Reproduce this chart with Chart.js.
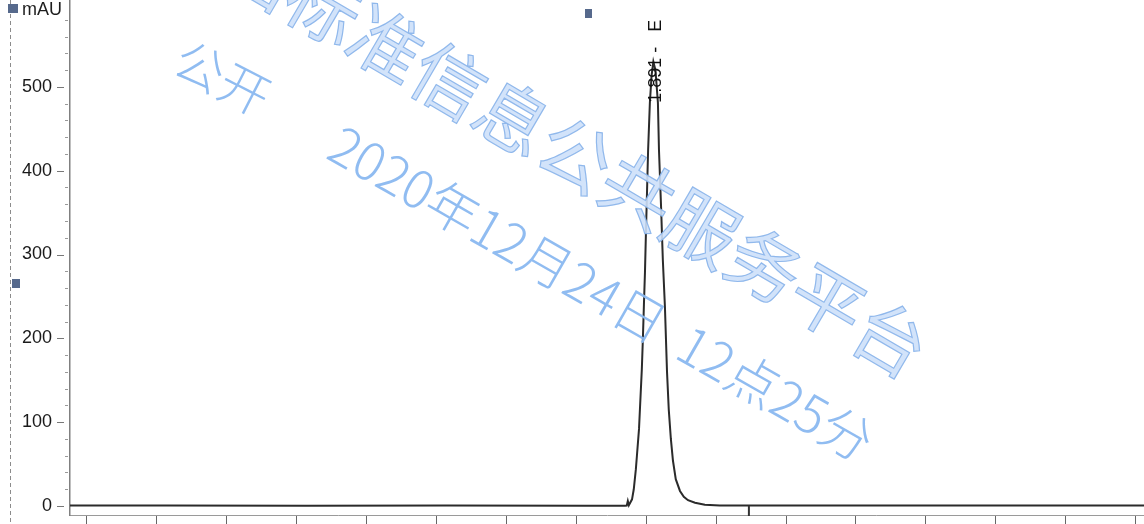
<!DOCTYPE html>
<html>
<head>
<meta charset="utf-8">
<script src="https://cdn.jsdelivr.net/npm/chart.js@4.4.1/dist/chart.umd.min.js"></script>
<style>
  html, body { margin: 0; padding: 0; background: #ffffff; }
  #wrap { width: 1144px; height: 524px; position: relative; }
</style>
</head>
<body>
<div id="wrap"><canvas id="c" width="1144" height="524"></canvas></div>
<script>
// Retention time (min) and detector response (mAU)
const retentionTimes = [
  0.224, 0.50, 0.90, 1.30, 1.70, 1.810, 1.815, 1.818, 1.821, 1.830,
  1.835, 1.841, 1.844, 1.850, 1.853, 1.858, 1.861, 1.864, 1.867, 1.870,
  1.873, 1.876, 1.881, 1.886, 1.891, 1.897, 1.904, 1.907, 1.913, 1.918,
  1.924, 1.930, 1.935, 1.941, 1.947, 1.955, 1.967, 1.978, 1.990, 2.010,
  2.038, 2.081, 2.40, 2.80, 3.293
];
const signal = [
  0.5, 0.6, 0.4, 0.5, 0.4, 0.4, 0.6, 6, 1.0, 8,
  20, 44, 60, 92, 119, 163, 199, 240, 279, 330,
  377, 425, 481, 514, 530, 520, 481, 425, 357, 294,
  238, 160, 115, 80, 54, 32, 18, 11, 7, 4,
  1.5, 0.6, 0.5, 0.6, 0.5
];

// Axis ticks
const yTickValues = [0, 100, 200, 300, 400, 500];
const yMinorTickValues = [20, 40, 60, 80, 120, 140, 160, 180, 220, 240, 260, 280,
  320, 340, 360, 380, 420, 440, 460, 480, 520, 540, 560, 580];
const xTickValues = [0.27, 0.47, 0.67, 0.87, 1.07, 1.27, 1.47, 1.67, 1.87, 2.07,
  2.27, 2.47, 2.67, 2.87, 3.07, 3.27];
const yUnit = 'mAU';

// Peak annotation and event marks
const peakTimes = [1.891];
const peakHeights = [530];
const peakNames = ['E'];
const eventTimes = [2.164];

// Watermark text
const watermarkLines = ['全国标准信息公共服务平台', '公开', '2020年12月24日  12点25分'];

const points = retentionTimes.map((t, i) => ({ x: t, y: signal[i] }));

const zeroPadding = s => {
  s.paddingTop = 0; s.paddingBottom = 0; s.paddingLeft = 0; s.paddingRight = 0;
};

const decorations = {
  id: 'decorations',
  afterDraw(chart) {
    const ctx = chart.ctx;
    const xs = chart.scales.x;
    const ys = chart.scales.y;
    const axisX = chart.chartArea.left;

    ctx.save();

    // dashed frame edge on the left
    ctx.strokeStyle = '#8c8c8c';
    ctx.lineWidth = 1;
    ctx.setLineDash([4, 3]);
    ctx.beginPath();
    ctx.moveTo(10.5, 0);
    ctx.lineTo(10.5, 524);
    ctx.stroke();
    ctx.setLineDash([]);

    // y tick marks: major and minor
    ctx.strokeStyle = '#777';
    ctx.lineWidth = 1;
    yTickValues.forEach(v => {
      const y = Math.round(ys.getPixelForValue(v)) + 0.5;
      ctx.beginPath();
      ctx.moveTo(axisX - 13, y);
      ctx.lineTo(axisX - 6, y);
      ctx.stroke();
    });
    ctx.strokeStyle = '#999';
    yMinorTickValues.forEach(v => {
      const y = Math.round(ys.getPixelForValue(v)) + 0.5;
      ctx.beginPath();
      ctx.moveTo(axisX - 5, y);
      ctx.lineTo(axisX - 2, y);
      ctx.stroke();
    });

    // event marks on the baseline
    ctx.strokeStyle = '#333';
    ctx.lineWidth = 2;
    eventTimes.forEach(t => {
      const x = xs.getPixelForValue(t);
      ctx.beginPath();
      ctx.moveTo(x, ys.getPixelForValue(0));
      ctx.lineTo(x, chart.chartArea.bottom + 1);
      ctx.stroke();
    });

    // unit label
    ctx.fillStyle = '#1e1e1e';
    ctx.font = '18px "Liberation Sans", Arial, sans-serif';
    ctx.textAlign = 'left';
    ctx.textBaseline = 'alphabetic';
    ctx.fillText(yUnit, 22, 15);

    // peak labels, vertical
    ctx.font = '18px "Liberation Sans", Arial, sans-serif';
    ctx.fillStyle = '#111';
    peakTimes.forEach((t, i) => {
      const x = xs.getPixelForValue(t) + 3;
      const y = ys.getPixelForValue(peakHeights[i]) + 41;
      ctx.save();
      ctx.translate(x, y);
      ctx.rotate(-Math.PI / 2);
      ctx.textAlign = 'left';
      ctx.textBaseline = 'middle';
      ctx.fillText(t.toFixed(3) + ' -   ' + peakNames[i], 0, 0);
      ctx.restore();
    });

    // selection handles
    ctx.fillStyle = '#56698c';
    ctx.fillRect(8, 4, 10, 9);
    ctx.fillRect(585, 9, 7, 9);
    ctx.fillRect(12, 279, 8, 9);

    // watermark
    const drawRotated = (text, x, y, deg, font, fill, stroke) => {
      ctx.save();
      ctx.translate(x, y);
      ctx.rotate(deg * Math.PI / 180);
      ctx.font = font;
      ctx.textAlign = 'left';
      ctx.textBaseline = 'middle';
      ctx.fillStyle = fill;
      ctx.fillText(text, 0, 0);
      if (stroke) {
        ctx.strokeStyle = stroke;
        ctx.lineWidth = 1.2;
        ctx.strokeText(text, 0, 0);
      }
      ctx.restore();
    };
    drawRotated(watermarkLines[0], 166, -85, 30.3,
      '400 73px "Noto Sans CJK SC", sans-serif', 'rgba(205,224,249,0.9)', 'rgba(135,178,234,0.9)');
    drawRotated(watermarkLines[1], 178, 55, 27,
      '300 50px "Noto Sans CJK SC", sans-serif', 'rgba(138,184,240,0.95)', null);
    drawRotated(watermarkLines[2], 334, 140, 29.8,
      '300 52px "Noto Sans CJK SC", sans-serif', 'rgba(138,184,240,0.95)', null);

    ctx.restore();
  }
};

new Chart(document.getElementById('c'), {
  type: 'line',
  data: {
    datasets: [{
      data: points,
      borderColor: '#2b2b2b',
      borderWidth: 2,
      pointRadius: 0,
      tension: 0,
      fill: false
    }]
  },
  options: {
    responsive: false,
    animation: false,
    events: [],
    layout: { padding: 0, autoPadding: false },
    plugins: { legend: { display: false }, tooltip: { enabled: false } },
    scales: {
      x: {
        type: 'linear',
        min: 0.224,
        max: 3.293,
        afterBuildTicks: s => { s.ticks = xTickValues.map(v => ({ value: v })); },
        afterFit: s => { s.height = 9; zeroPadding(s); },
        ticks: { display: false },
        grid: { drawOnChartArea: false, drawTicks: true, tickLength: 9, color: '#666', lineWidth: 1 },
        border: { color: '#9a9a9a', width: 1 }
      },
      y: {
        type: 'linear',
        min: -10.7,
        max: 603.6,
        afterBuildTicks: s => { s.ticks = yTickValues.map(v => ({ value: v })); },
        afterFit: s => { s.width = 70; zeroPadding(s); },
        ticks: {
          color: '#1a1a1a',
          padding: 18,
          font: { family: '"Liberation Sans", Arial, sans-serif', size: 18 }
        },
        grid: { drawOnChartArea: false, drawTicks: false },
        border: { color: '#808080', width: 1.5 }
      }
    }
  },
  plugins: [decorations]
});
</script>
</body>
</html>
